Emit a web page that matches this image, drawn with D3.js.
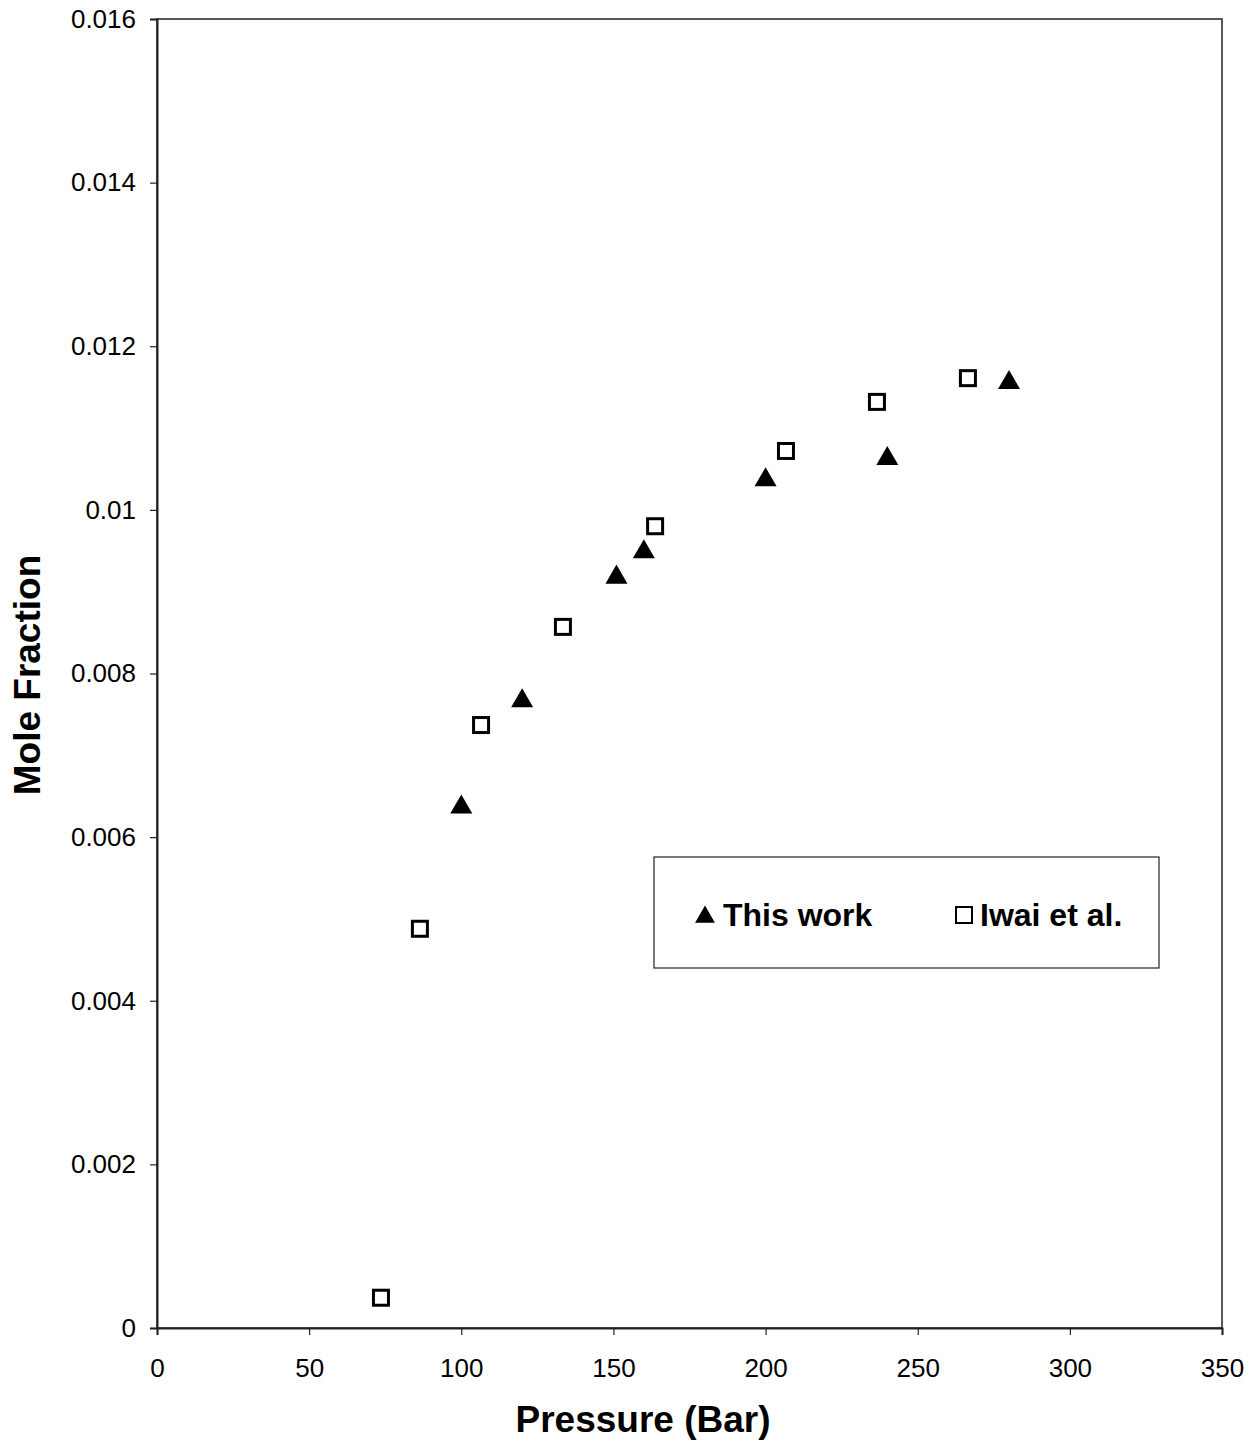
<!DOCTYPE html>
<html>
<head>
<meta charset="utf-8">
<script src="https://cdn.jsdelivr.net/npm/d3@7"></script>
<style>
  body { margin: 0; background: #fff; }
  svg { font-family: "Liberation Sans", Arial, sans-serif; }
</style>
</head>
<body>
<svg width="1255" height="1444"></svg>
<script>
// data
const thisWorkP = [100, 120, 151, 160, 200, 240, 280];
const thisWorkX = [0.00639, 0.00769, 0.00920, 0.00951, 0.01039, 0.01065, 0.01158];
const iwaiP = [73.6, 86.4, 106.5, 133.4, 163.7, 206.7, 236.6, 266.5];
const iwaiX = [0.00037, 0.00488, 0.00737, 0.00857, 0.00980, 0.01072, 0.01132, 0.01161];
const xTicks = [0, 50, 100, 150, 200, 250, 300, 350];
const yTicks = [0, 0.002, 0.004, 0.006, 0.008, 0.01, 0.012, 0.014, 0.016];

const svg = d3.select("svg");
const plotL = 157, plotR = 1222, plotT = 19, plotB = 1328;

const x = d3.scaleLinear().domain([0, 350]).range([plotL, plotR]);
const y = d3.scaleLinear().domain([0, 0.016]).range([plotB, plotT]);

// plot frame
svg.append("rect")
    .attr("x", plotL).attr("y", plotT)
    .attr("width", plotR - plotL).attr("height", plotB - plotT)
    .attr("fill", "none").attr("stroke", "#222").attr("stroke-width", 1.5);

const xAxis = svg.append("g")
    .attr("transform", `translate(0,${plotB})`)
    .call(d3.axisBottom(x).tickValues(xTicks).tickSize(7).tickPadding(24).tickFormat(d3.format("d")));

const yAxis = svg.append("g")
    .attr("transform", `translate(${plotL},0)`)
    .call(d3.axisLeft(y).tickValues(yTicks).tickSize(7).tickPadding(14).tickFormat(d => d === 0 ? "0" : String(+d.toFixed(3))));

[xAxis, yAxis].forEach(g => {
    g.select(".domain").attr("stroke", "#222").attr("stroke-width", 2);
    g.selectAll(".tick line").attr("stroke", "#222").attr("stroke-width", 1.2);
    g.selectAll("text").attr("font-size", 26).attr("fill", "#000")
        .attr("font-family", "'Liberation Sans', Arial, sans-serif");
});

// axis titles
svg.append("text")
    .attr("x", 643).attr("y", 1432)
    .attr("text-anchor", "middle")
    .attr("font-size", 37).attr("font-weight", "bold")
    .text("Pressure (Bar)");

svg.append("text")
    .attr("transform", "translate(40,675) rotate(-90)")
    .attr("text-anchor", "middle")
    .attr("font-size", 37).attr("font-weight", "bold")
    .text("Mole Fraction");

const tri = d3.symbol().type(d3.symbolTriangle).size(210);

// Iwai et al. (open squares)
svg.selectAll("rect.iwai")
    .data(iwaiP)
    .enter().append("rect")
    .attr("class", "iwai")
    .attr("x", (d) => x(d) - 7.5)
    .attr("y", (d, i) => y(iwaiX[i]) - 7.5)
    .attr("width", 15).attr("height", 15)
    .attr("fill", "#fff").attr("stroke", "#000").attr("stroke-width", 3);

// This work (filled triangles)
svg.selectAll("path.tw")
    .data(thisWorkP)
    .enter().append("path")
    .attr("class", "tw")
    .attr("d", tri)
    .attr("transform", (d, i) => `translate(${x(d)},${y(thisWorkX[i]) + 2})`)
    .attr("fill", "#000");

// legend
const lg = svg.append("g");
lg.append("rect")
    .attr("x", 654).attr("y", 857).attr("width", 505).attr("height", 111)
    .attr("fill", "#fff").attr("stroke", "#222").attr("stroke-width", 1.2);
lg.append("path")
    .attr("d", d3.symbol().type(d3.symbolTriangle).size(170))
    .attr("transform", "translate(705,917)")
    .attr("fill", "#000");
lg.append("text")
    .attr("x", 723).attr("y", 926)
    .attr("font-size", 32).attr("font-weight", "bold")
    .text("This work");
lg.append("rect")
    .attr("x", 956).attr("y", 907).attr("width", 16).attr("height", 16)
    .attr("fill", "#fff").attr("stroke", "#000").attr("stroke-width", 2);
lg.append("text")
    .attr("x", 980).attr("y", 926)
    .attr("font-size", 32).attr("font-weight", "bold")
    .text("Iwai et al.");
</script>
</body>
</html>
